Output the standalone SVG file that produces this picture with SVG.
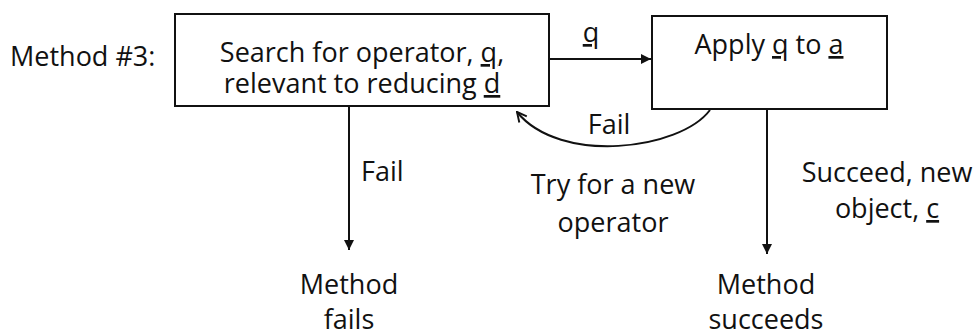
<svg xmlns="http://www.w3.org/2000/svg" width="979" height="336" viewBox="0 0 979 336">
<style>
text{font-family:"Open Sans","Liberation Sans",sans-serif;font-size:27px;fill:#111}
.c{text-anchor:middle}
.u{text-decoration:underline}
.box{fill:#fff;stroke:#111;stroke-width:2}
.ln{fill:none;stroke:#111;stroke-width:2}
</style>
<defs>
<marker id="fa" viewBox="0 0 10 10" refX="10" refY="5" markerWidth="5" markerHeight="5" orient="auto" markerUnits="strokeWidth"><path d="M0,0 L10,5 L0,10 z" fill="#111"/></marker>
<marker id="oa" viewBox="0 0 10 10" refX="9" refY="5" markerWidth="6" markerHeight="6" orient="auto" markerUnits="strokeWidth"><path d="M1,1 L9,5 L1,9" fill="none" stroke="#111" stroke-width="1.6"/></marker>
</defs>
<text x="10" y="66">Method #3:</text>
<g id="search">
<rect class="box" x="175" y="14" width="374" height="92"/>
<text class="c"><tspan x="362" y="62">Search for operator, <tspan class="u">q</tspan>,</tspan><tspan x="362" y="93">relevant to reducing <tspan class="u">d</tspan></tspan></text>
</g>
<g id="apply">
<rect class="box" x="652" y="16" width="235" height="93"/>
<text class="c" x="769" y="54">Apply <tspan class="u">q</tspan> to <tspan class="u">a</tspan></text>
</g>
<g id="fails">
<text class="c" x="349" y="294">Method</text>
<text class="c" x="349" y="329">fails</text>
</g>
<g id="succeeds">
<text class="c" x="766" y="294">Method</text>
<text class="c" x="766" y="329">succeeds</text>
</g>
<g id="connectors">
<line class="ln" x1="549" y1="59" x2="651" y2="59" marker-end="url(#fa)"/>
<text class="c u" x="591" y="42">q</text>
<path class="ln" d="M710,110 C680,150 560,165 517,112" marker-end="url(#oa)"/>
<text class="c" x="609" y="134">Fail</text>
<text class="c" x="613" y="194">Try for a new</text>
<text class="c" x="613" y="232">operator</text>
<line class="ln" x1="349" y1="106" x2="349" y2="250" marker-end="url(#fa)"/>
<text x="361" y="181">Fail</text>
<line class="ln" x1="767" y1="109" x2="767" y2="254" marker-end="url(#fa)"/>
<text class="c" x="887" y="182">Succeed, new</text>
<text class="c" x="887" y="218">object, <tspan class="u">c</tspan></text>
</g>
</svg>
